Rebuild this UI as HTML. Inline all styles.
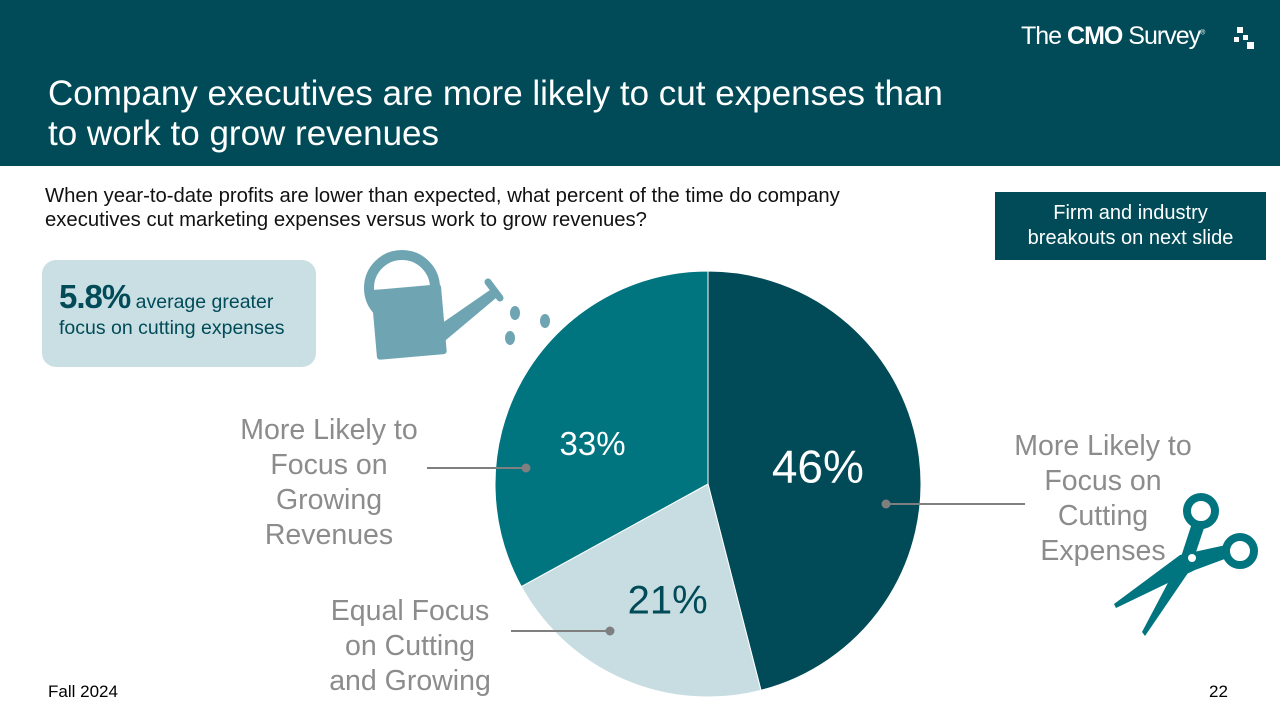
<!DOCTYPE html>
<html><head><meta charset="utf-8"><style>
body{margin:0;width:1280px;height:720px;position:relative;overflow:hidden;background:#fff;font-family:"Liberation Sans",Arial,sans-serif}
.abs{position:absolute}
.lbl{position:absolute;color:#8c8c8c;font-size:28.5px;line-height:35px;text-align:center}
</style></head><body>
<div class="abs" style="left:0;top:0;width:1280px;height:166px;background:#004b57"></div>
<div class="abs" style="left:48px;top:74px;color:#fff;font-size:35px;line-height:40px">Company executives are more likely to cut expenses than<br>to work to grow revenues</div>
<div class="abs" style="left:1021px;top:22px;color:#fff;font-size:25px;letter-spacing:-1px">The <b>CMO</b> Survey<sup style="font-size:7px">®</sup></div>
<svg class="abs" style="left:1234px;top:26px" width="30" height="30"><rect x="3" y="1" width="6" height="6" fill="#fff"/><rect x="0" y="11" width="5" height="5" fill="#fff"/><rect x="9" y="9" width="5" height="5" fill="#fff"/><rect x="13" y="16" width="7" height="7" fill="#fff"/></svg>
<div class="abs" style="left:45px;top:184px;font-size:20.3px;line-height:24px;color:#111">When year-to-date profits are lower than expected, what percent of the time do company<br>executives cut marketing expenses versus work to grow revenues?</div>
<div class="abs" style="left:995px;top:192px;width:271px;height:68px;background:#004b57;color:#fff;font-size:20px;line-height:25px;text-align:center;box-sizing:border-box;padding-top:9px">Firm and industry<br>breakouts on next slide</div>
<div class="abs" style="left:42px;top:260px;width:274px;height:107px;background:#c9dfe4;border-radius:14px;color:#004b57;box-sizing:border-box;padding:24px 0 0 17px;font-size:19.5px;line-height:26px"><b style="font-size:33px;letter-spacing:-1px">5.8%</b> average greater<br>focus on cutting expenses</div>
<svg class="abs" style="left:0;top:0" width="1280" height="720">
<g id="icons">
<circle cx="402" cy="288" r="33" fill="none" stroke="#6fa5b2" stroke-width="10"/>
<rect x="374" y="287" width="70" height="70" fill="#6fa5b2" transform="rotate(-5 409 322)" rx="3"/>
<polygon points="435,328 490,290 496,298 440,345" fill="#6fa5b2"/>
<line x1="488" y1="282" x2="500" y2="298" stroke="#6fa5b2" stroke-width="7" stroke-linecap="round"/>
<ellipse cx="515" cy="313" rx="5" ry="7" fill="#6fa5b2"/><ellipse cx="545" cy="321" rx="5" ry="7" fill="#6fa5b2"/><ellipse cx="510" cy="338" rx="5" ry="7" fill="#6fa5b2"/>
<g fill="#00747f">
<circle cx="1201" cy="511" r="14" fill="none" stroke="#00747f" stroke-width="8"/>
<circle cx="1240" cy="551" r="14" fill="none" stroke="#00747f" stroke-width="8"/>
<polygon points="1193,520 1205,525 1190,570 1145,636 1142,632 1180,560"/>
<polygon points="1226,545 1230,557 1195,570 1116,608 1114,604 1180,555"/>
<circle cx="1192" cy="558" r="4" fill="#fff"/>
</g>
</g>
<g id="slices"></g>
<g id="leaders" stroke="#7f7f7f" stroke-width="2" fill="#7f7f7f">
<line x1="427" y1="468" x2="526" y2="468"/><circle cx="526" cy="468" r="3.5"/>
<line x1="511" y1="631" x2="610" y2="631"/><circle cx="610" cy="631" r="3.5"/>
<line x1="886" y1="504" x2="1025" y2="504"/><circle cx="886" cy="504" r="3.5"/>
</g>
</svg>
<div class="lbl" style="left:229px;top:413px;width:200px">More Likely to<br>Focus on<br>Growing<br>Revenues</div>
<div class="lbl" style="left:310px;top:594px;width:200px">Equal Focus<br>on Cutting<br>and Growing</div>
<div class="lbl" style="left:1003px;top:429px;width:200px">More Likely to<br>Focus on<br>Cutting<br>Expenses</div>
<div class="abs" style="left:48px;top:682px;font-size:17px">Fall 2024</div>
<div class="abs" style="left:1209px;top:682px;font-size:17px">22</div>
<script>
const categories=["More Likely to Focus on Cutting Expenses","Equal Focus on Cutting and Growing","More Likely to Focus on Growing Revenues"];
const values=[46,21,33];
const valueLabels=["46%","21%","33%"];
const colors=["#004b57","#c7dde2","#00747f"];
const textColors=["#fff","#004b57","#fff"];
const fontSizes=[46,40,33];
const labelR=[0.52,0.59,0.57];
const labelShift=[0,-0.013,-0.035];
const cx=708,cy=484,r=213;
const g=document.getElementById('slices');
const ns="http://www.w3.org/2000/svg";
const total=values.reduce((a,b)=>a+b,0);
function pt(frac,rad){const a=frac*2*Math.PI;return [cx+rad*Math.sin(a),cy-rad*Math.cos(a)];}
let acc=0;
values.forEach((v,i)=>{
  const f0=acc/total,f1=(acc+v)/total;acc+=v;
  const p0=pt(f0,r),p1=pt(f1,r);
  const large=(f1-f0)>0.5?1:0;
  const p=document.createElementNS(ns,'path');
  p.setAttribute('d',`M${cx},${cy}L${p0[0]},${p0[1]}A${r},${r} 0 ${large} 1 ${p1[0]},${p1[1]}Z`);
  p.setAttribute('fill',colors[i]);
  p.setAttribute('stroke','#fff');p.setAttribute('stroke-width','1');
  
  
  g.appendChild(p);
  const m=pt((f0+f1)/2+labelShift[i],r*labelR[i]);
  const t=document.createElementNS(ns,'text');
  t.setAttribute('x',m[0]);t.setAttribute('y',m[1]);
  t.setAttribute('text-anchor','middle');t.setAttribute('dominant-baseline','middle');
  t.setAttribute('fill',textColors[i]);t.setAttribute('font-size',fontSizes[i]);
  t.setAttribute('font-family','Liberation Sans, sans-serif');
  t.textContent=valueLabels[i];
  
  
  g.appendChild(t);
});
</script>
</body></html>
